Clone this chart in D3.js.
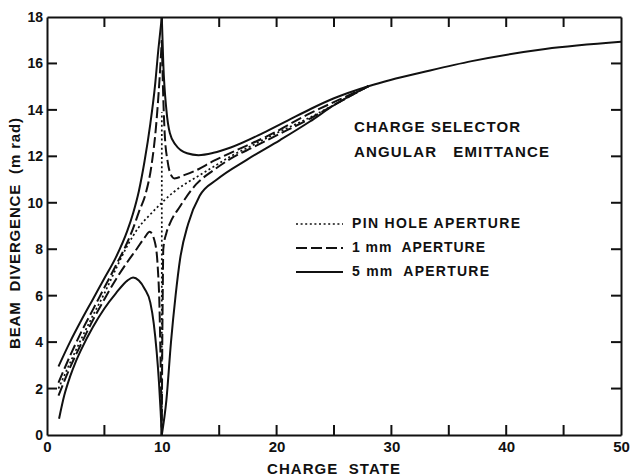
<!DOCTYPE html>
<html>
<head>
<meta charset="utf-8">
<script src="https://cdn.jsdelivr.net/npm/d3@7"></script>
<style>
  body { margin: 0; background: #fff; }
  text { font-family: "Liberation Sans", Arial, sans-serif; font-weight: bold; fill: #111; }
</style>
</head>
<body>
<svg id="chart" width="632" height="476"></svg>
<script>
// ---- data (charge state, beam divergence in mrad) ----
const xTickValues = [0, 5, 10, 15, 20, 25, 30, 35, 40, 45, 50];
const yTickValues = [0, 2, 4, 6, 8, 10, 12, 14, 16, 18];

// pin hole aperture: one smooth line plus a spike at charge state 10
const pinHoleLine = [[1, 2.0], [2, 3.1], [3, 4.15], [4, 5.15], [5, 6.1], [6, 7.15], [7, 8.15],
  [8, 8.95], [9, 9.5], [10, 10.0], [11, 10.45], [12, 10.8], [13, 11.1], [14.5, 11.55],
  [16, 12.0], [18, 12.5], [20, 13.0], [23, 13.7], [25.5, 14.35], [28, 15.02]];
const pinHoleSpike = [[10, 0], [10, 13.9]];

// 1 mm aperture
const mm1UpperLeft = [[1, 2.25], [2, 3.4], [3, 4.45], [4, 5.4], [5, 6.35], [6, 7.3], [7, 8.3],
  [7.5, 8.9], [8, 9.6], [8.6, 10.4], [9.1, 11.6], [9.5, 13.3], [9.8, 15.3], [10, 17]];
const mm1UpperRight = [[10, 17], [10.1, 15], [10.25, 13], [10.5, 11.8], [10.8, 11.2],
  [11.1, 11.05], [12, 11.2], [13, 11.4], [14.5, 11.8], [16, 12.15], [19.4, 12.92],
  [22.9, 13.85], [25.5, 14.45], [28, 15.02]];
const mm1LowerLeft = [[1, 1.7], [2, 2.9], [3, 3.95], [4, 4.95], [5, 5.85], [6, 6.7], [7, 7.45],
  [7.8, 8.0], [8.5, 8.5], [8.95, 8.75], [9.4, 8.3], [9.65, 7.2], [9.8, 5.5], [9.9, 3.0], [10, 0]];
const mm1LowerRight = [[10, 0], [10.03, 3], [10.08, 6], [10.13, 8.0], [10.4, 8.7], [10.7, 9.1],
  [11.6, 9.85], [13, 10.8], [14.5, 11.4], [16, 11.9], [18, 12.4], [20, 12.9], [23, 13.65],
  [25.5, 14.35], [28, 15.02]];

// 5 mm aperture
const mm5UpperLeft = [[1, 2.95], [2, 4.0], [3, 4.95], [4, 5.85], [5, 6.75], [6, 7.65],
  [7, 8.8], [7.5, 9.55], [8, 10.5], [8.5, 11.8], [9, 13.4], [9.4, 15.0], [9.7, 16.6], [10, 18]];
const mm5UpperRight = [[10, 18], [10.13, 16], [10.4, 14], [10.7, 13], [11.2, 12.5],
  [12.2, 12.13], [13.2, 12.05], [14.5, 12.15], [16, 12.38], [18.8, 13.0], [21, 13.55],
  [23, 14.05], [25, 14.5], [28, 15.02], [30, 15.3], [32.7, 15.62], [37, 16.1],
  [43.4, 16.62], [50, 16.93]];
const mm5LowerLeft = [[1.05, 0.7], [1.5, 1.7], [2, 2.5], [2.5, 3.15], [3, 3.7], [4, 4.65],
  [5, 5.45], [6, 6.1], [7, 6.65], [7.5, 6.78], [8, 6.65], [8.5, 6.3], [9, 5.7], [9.3, 4.8],
  [9.55, 3.6], [9.75, 2.3], [9.9, 1.0], [10, 0]];
const mm5LowerRight = [[10, 0], [10.4, 1.5], [10.8, 4.0], [11.2, 6.0], [11.6, 7.6],
  [12.3, 9.1], [13.3, 10.3], [14.8, 11.0], [17.4, 11.85], [20.3, 12.7], [22.9, 13.5],
  [25, 14.2], [28, 15.02]];

const titleLines = ["CHARGE SELECTOR", "ANGULAR   EMITTANCE"];
const legendLabels = ["PIN HOLE APERTURE", "1 mm  APERTURE", "5 mm  APERTURE"];

// ---- layout ----
const svg = d3.select("#chart");
const x = d3.scaleLinear().domain([0, 50]).range([47, 621]);
const y = d3.scaleLinear().domain([0, 18]).range([435, 17]);
const tickLen = 10;

// line styles per aperture
const styles = {
  pin: { dash: "2,2.6", width: 1.7 },
  mm1: { dash: "11,4", width: 2 },
  mm5: { dash: null, width: 2 }
};

// frame with labels from d3 axes
const axisStroke = g => g.selectAll("path").attr("stroke", "#111").attr("stroke-width", 2);

svg.append("g")
  .attr("transform", `translate(0,${y(0)})`)
  .call(d3.axisBottom(x).tickValues(xTickValues.filter(d => d % 10 === 0))
    .tickSize(0).tickPadding(6))
  .call(axisStroke)
  .call(g => g.selectAll("text").style("font-size", "15px").attr("fill", "#111"));

svg.append("g")
  .attr("transform", `translate(0,${y(18)})`)
  .call(d3.axisTop(x).tickValues([]).tickSize(0))
  .call(axisStroke);

svg.append("g")
  .attr("transform", `translate(${x(0)},0)`)
  .call(d3.axisLeft(y).tickValues(yTickValues).tickSize(0).tickPadding(4))
  .call(axisStroke)
  .call(g => g.selectAll("text").style("font-size", "14px").attr("fill", "#111"));

svg.append("g")
  .attr("transform", `translate(${x(50)},0)`)
  .call(d3.axisRight(y).tickValues([]).tickSize(0))
  .call(axisStroke);

// inward tick marks on all four sides
const ticks = svg.append("g").attr("stroke", "#111").attr("stroke-width", 2);
ticks.selectAll("line.xb").data(xTickValues.slice(1, -1)).join("line").attr("class", "xb")
  .attr("x1", d => x(d)).attr("x2", d => x(d))
  .attr("y1", y(0)).attr("y2", y(0) - tickLen);
ticks.selectAll("line.xt").data(xTickValues.slice(1, -1)).join("line").attr("class", "xt")
  .attr("x1", d => x(d)).attr("x2", d => x(d))
  .attr("y1", y(18)).attr("y2", y(18) + tickLen);
ticks.selectAll("line.yl").data(yTickValues.slice(1, -1)).join("line").attr("class", "yl")
  .attr("y1", d => y(d)).attr("y2", d => y(d))
  .attr("x1", x(0)).attr("x2", x(0) + tickLen);
ticks.selectAll("line.yr").data(yTickValues.slice(1, -1)).join("line").attr("class", "yr")
  .attr("y1", d => y(d)).attr("y2", d => y(d))
  .attr("x1", x(50)).attr("x2", x(50) - tickLen);

// curves
const smooth = d3.line().x(d => x(d[0])).y(d => y(d[1])).curve(d3.curveMonotoneX);
const straight = d3.line().x(d => x(d[0])).y(d => y(d[1]));

const curves = [
  { data: pinHoleLine, s: styles.pin, gen: smooth },
  { data: pinHoleSpike, s: styles.pin, gen: straight },
  { data: mm1UpperLeft, s: styles.mm1, gen: smooth },
  { data: mm1UpperRight, s: styles.mm1, gen: smooth },
  { data: mm1LowerLeft, s: styles.mm1, gen: smooth },
  { data: mm1LowerRight, s: styles.mm1, gen: smooth },
  { data: mm5UpperLeft, s: styles.mm5, gen: smooth },
  { data: mm5UpperRight, s: styles.mm5, gen: smooth },
  { data: mm5LowerLeft, s: styles.mm5, gen: smooth },
  { data: mm5LowerRight, s: styles.mm5, gen: smooth }
];

svg.append("g")
  .selectAll("path")
  .data(curves)
  .join("path")
  .attr("d", d => d.gen(d.data))
  .attr("fill", "none")
  .attr("stroke", "#111")
  .attr("stroke-width", d => d.s.width)
  .attr("stroke-dasharray", d => d.s.dash)
  .attr("stroke-linejoin", "round");

// title block
const titleWidths = [166, 195];
svg.append("g")
  .selectAll("text")
  .data(titleLines)
  .join("text")
  .attr("x", 354)
  .attr("y", (d, i) => 132 + i * 25)
  .attr("textLength", (d, i) => titleWidths[i])
  .style("font-size", "15px")
  .style("white-space", "pre")
  .text(d => d);

// legend
const legendStyles = [styles.pin, styles.mm1, styles.mm5];
const legendWidths = [168, 133, 137];
const rows = svg.append("g")
  .selectAll("g")
  .data(legendLabels)
  .join("g")
  .attr("transform", (d, i) => `translate(0,${224 + i * 24})`);

rows.append("line")
  .attr("x1", 296).attr("x2", 343)
  .attr("stroke", "#111")
  .attr("stroke-width", (d, i) => legendStyles[i].width)
  .attr("stroke-dasharray", (d, i) => legendStyles[i].dash);

rows.append("text")
  .attr("x", 352)
  .attr("y", 4)
  .attr("textLength", (d, i) => legendWidths[i])
  .style("font-size", "14px")
  .style("white-space", "pre")
  .text(d => d);

// axis titles
svg.append("text")
  .attr("x", 333.5)
  .attr("y", 474)
  .attr("text-anchor", "middle")
  .attr("textLength", 133)
  .style("font-size", "15px")
  .style("white-space", "pre")
  .text("CHARGE  STATE");

svg.append("text")
  .attr("transform", "translate(20,233.5) rotate(-90)")
  .attr("text-anchor", "middle")
  .attr("textLength", 231)
  .style("font-size", "15px")
  .style("white-space", "pre")
  .text("BEAM  DIVERGENCE  (m rad)");
</script>
</body>
</html>
